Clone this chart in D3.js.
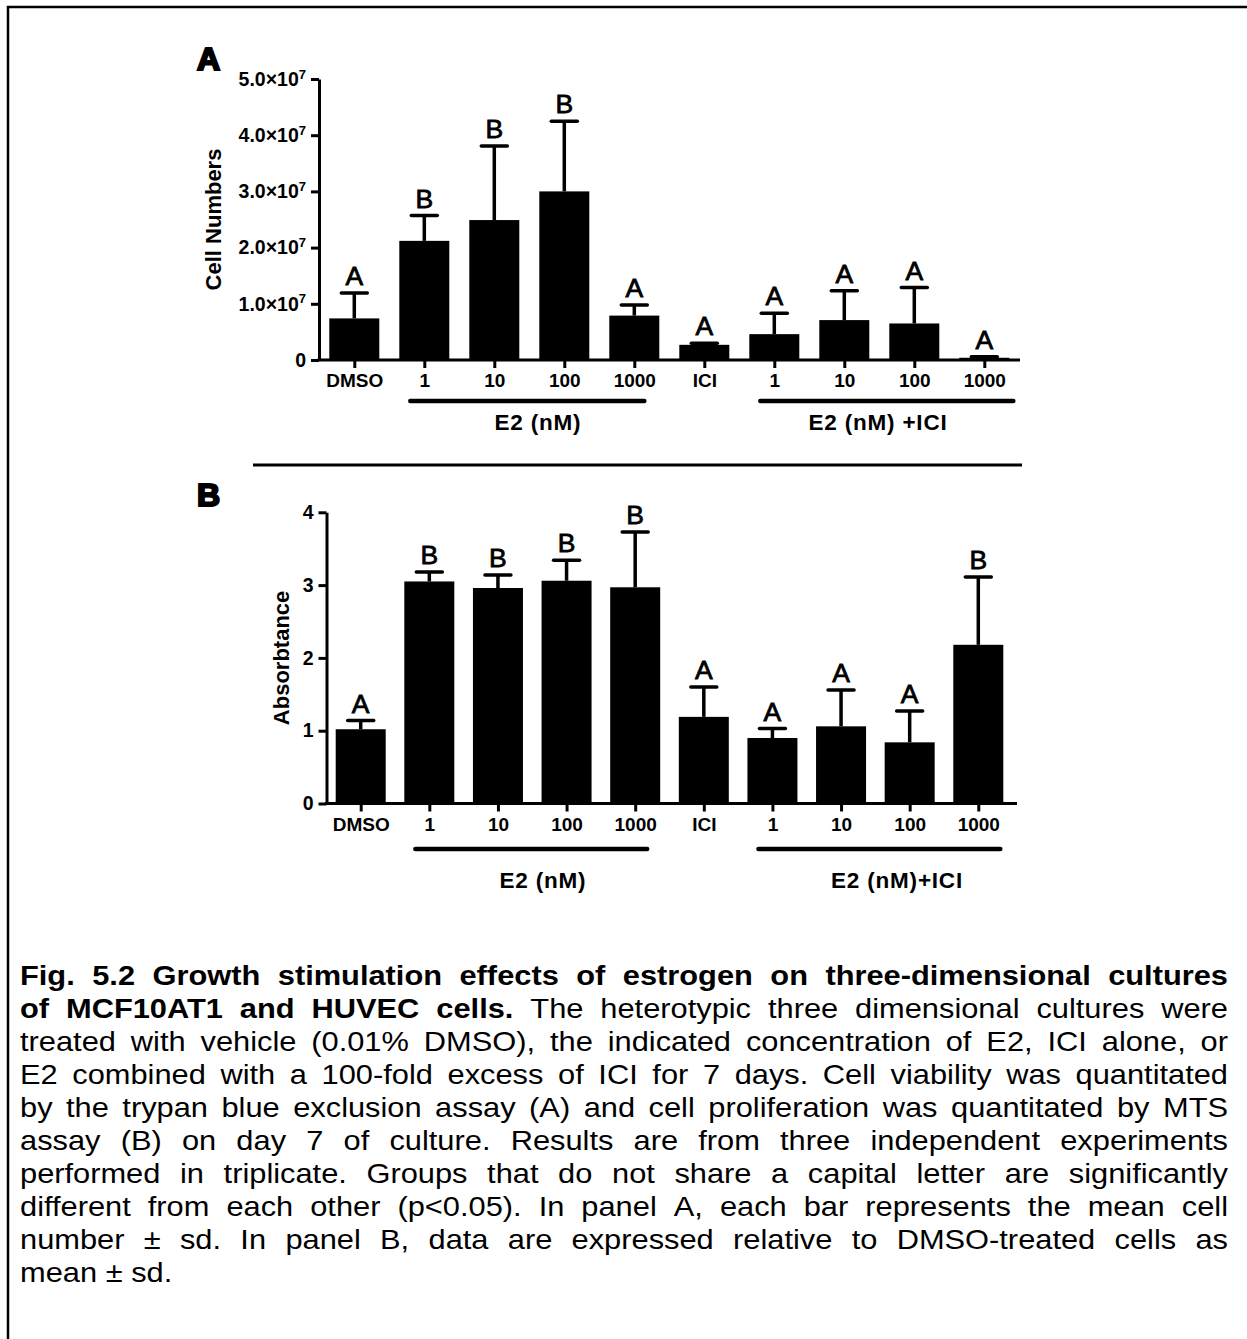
<!DOCTYPE html>
<html>
<head>
<meta charset="utf-8">
<script src="https://cdn.jsdelivr.net/npm/d3@7"></script>
<style>
  body { margin: 0; background: #fff; }
  svg { display: block; font-family: "Liberation Sans", Arial, sans-serif; }
</style>
</head>
<body>
<svg id="fig" width="1247" height="1339"></svg>
<script>
// groups on the x axis (same for both panels)
const groups = ["DMSO", "1", "10", "100", "1000", "ICI", "1", "10", "100", "1000"];

// panel A: cell numbers (x 1e7), mean and sd
const cellMean = [0.74, 2.12, 2.49, 3.00, 0.79, 0.27, 0.46, 0.71, 0.65, 0.04];
const cellSd = [0.45, 0.45, 1.32, 1.25, 0.19, 0.03, 0.37, 0.52, 0.64, 0.02];
const cellLetters = ["A", "B", "B", "B", "A", "A", "A", "A", "A", "A"];
const cellTicks = [0, 1, 2, 3, 4, 5];

// panel B: absorbance, relative to DMSO
const absMean = [1.02, 3.05, 2.96, 3.06, 2.97, 1.19, 0.90, 1.06, 0.84, 2.18];
const absSd = [0.12, 0.13, 0.18, 0.28, 0.76, 0.41, 0.13, 0.50, 0.43, 0.93];
const absLetters = ["A", "B", "B", "B", "B", "A", "A", "A", "A", "B"];
const absTicks = [0, 1, 2, 3, 4];

// bracket groupings under the axis
const brackets = [
  { from: 1, to: 4 },
  { from: 6, to: 9 }
];

const captionLines = [
  "Fig. 5.2 Growth stimulation effects of estrogen on three-dimensional cultures",
  "of MCF10AT1 and HUVEC cells. The heterotypic three dimensional cultures were",
  "treated with vehicle (0.01% DMSO), the indicated concentration of E2, ICI alone, or",
  "E2 combined with a 100-fold excess of ICI for 7 days. Cell viability was quantitated",
  "by the trypan blue exclusion assay (A) and cell proliferation was quantitated by MTS",
  "assay (B) on day 7 of culture. Results are from three independent experiments",
  "performed in triplicate. Groups that do not share a capital letter are significantly",
  "different from each other (p<0.05). In panel A, each bar represents the mean cell",
  "number \u00b1 sd. In panel B, data are expressed relative to DMSO-treated cells as",
  "mean \u00b1 sd."
];
const boldWords = [11, 5]; // words in bold at the start of line 1 and 2

const svg = d3.select("#fig");

// outer frame (top and left edges are visible)
svg.append("path")
  .attr("d", "M8,1339 V7 H1247")
  .attr("fill", "none")
  .attr("stroke", "#000")
  .attr("stroke-width", 2.5);

function drawPanel(opt) {
  const g = svg.append("g");
  const idx = d3.range(groups.length);
  const x = d3.scalePoint().domain(idx).range(opt.xRange);
  const y = d3.scaleLinear().domain(opt.yDomain).range(opt.yRange);
  const barW = 50;

  // bars
  g.selectAll(".bar").data(idx).enter().append("rect")
    .attr("x", i => x(i) - barW / 2)
    .attr("width", barW)
    .attr("y", i => y(opt.mean[i]))
    .attr("height", i => y(0) - y(opt.mean[i]))
    .attr("fill", "#000");

  // error bars (upper only)
  g.selectAll(".err").data(idx).enter().append("line")
    .attr("x1", i => x(i)).attr("x2", i => x(i))
    .attr("y1", i => y(opt.mean[i]))
    .attr("y2", i => y(opt.mean[i] + opt.sd[i]))
    .attr("stroke", "#000").attr("stroke-width", 3.5);
  g.selectAll(".cap").data(idx).enter().append("line")
    .attr("x1", i => x(i) - 13).attr("x2", i => x(i) + 13)
    .attr("y1", i => y(opt.mean[i] + opt.sd[i]))
    .attr("y2", i => y(opt.mean[i] + opt.sd[i]))
    .attr("stroke", "#000").attr("stroke-width", 3.5)
    .attr("stroke-linecap", "round");

  // significance letters
  g.selectAll(".sig").data(idx).enter().append("text")
    .attr("x", i => x(i))
    .attr("y", i => y(opt.mean[i] + opt.sd[i]) - 8)
    .attr("text-anchor", "middle")
    .attr("font-size", 26.5)
    .attr("stroke", "#000").attr("stroke-width", 0.8)
    .text(i => opt.letters[i]);

  // y axis
  const yAxis = g.append("g")
    .attr("transform", `translate(${opt.xAxisStart},0)`)
    .call(d3.axisLeft(y).tickValues(opt.ticks).tickSize(8).tickSizeOuter(0).tickPadding(5)
      .tickFormat(d3.format("d")));
  yAxis.select(".domain").attr("stroke-width", 3);
  yAxis.selectAll(".tick line").attr("stroke-width", 3);
  yAxis.selectAll(".tick text")
    .attr("font-size", 19.5).attr("font-weight", "bold").attr("fill", "#000");
  if (opt.sci) {
    yAxis.selectAll(".tick text").each(function (d) {
      const t = d3.select(this);
      if (d === 0) { t.text("0"); return; }
      t.text("");
      t.append("tspan").text(d3.format(".1f")(d) + "\u00d710");
      t.append("tspan").attr("font-size", 13).attr("dy", "-0.55em").text("7");
    });
  }

  // x axis
  g.append("line")
    .attr("x1", opt.xAxisStart - 1.5).attr("x2", opt.xAxisEnd)
    .attr("y1", y(0)).attr("y2", y(0))
    .attr("stroke", "#000").attr("stroke-width", 3);
  const xAxis = g.append("g")
    .attr("transform", `translate(0,${y(0)})`)
    .call(d3.axisBottom(x).tickSize(8).tickPadding(6).tickFormat(i => groups[i]));
  xAxis.select(".domain").remove();
  xAxis.selectAll(".tick line").attr("stroke-width", 3);
  xAxis.selectAll(".tick text")
    .attr("font-size", 19).attr("font-weight", "bold").attr("fill", "#000");

  // group brackets
  brackets.forEach((b, k) => {
    g.append("line")
      .attr("x1", x(b.from) - 14).attr("x2", x(b.to) + opt.bracketPad[k])
      .attr("y1", opt.bracketY).attr("y2", opt.bracketY)
      .attr("stroke", "#000").attr("stroke-width", 4.5).attr("stroke-linecap", "round");
    g.append("text")
      .attr("x", opt.groupLabelX[k])
      .attr("y", opt.groupLabelY)
      .attr("text-anchor", "middle")
      .attr("font-size", 22.5).attr("font-weight", "bold")
      .attr("letter-spacing", 0.8)
      .text(opt.groupLabels[k]);
  });

  // y title
  g.append("text")
    .attr("transform", `translate(${opt.titleX},${(opt.yRange[0] + opt.yRange[1]) / 2}) rotate(-90)`)
    .attr("text-anchor", "middle")
    .attr("font-size", 22).attr("font-weight", "bold")
    .text(opt.title);

  // panel letter
  g.append("text")
    .attr("x", 197).attr("y", opt.letterY)
    .attr("font-size", 32).attr("font-weight", "bold")
    .attr("stroke", "#000").attr("stroke-width", 2.2)
    .text(opt.panel);
}

drawPanel({
  panel: "A", letterY: 70,
  mean: cellMean, sd: cellSd, letters: cellLetters,
  ticks: cellTicks, sci: true,
  xRange: [354.3, 984.3], yDomain: [0, 5], yRange: [360, 79],
  xAxisStart: 319, xAxisEnd: 1020,
  bracketY: 401, bracketPad: [10, 29],
  groupLabels: ["E2 (nM)", "E2 (nM) +ICI"],
  groupLabelX: [538, 878], groupLabelY: 430,
  title: "Cell Numbers", titleX: 221
});

drawPanel({
  panel: "B", letterY: 506,
  mean: absMean, sd: absSd, letters: absLetters,
  ticks: absTicks, sci: false,
  xRange: [360.7, 978.3], yDomain: [0, 4], yRange: [803.5, 512.3],
  xAxisStart: 326.5, xAxisEnd: 1017,
  bracketY: 849, bracketPad: [12, 22],
  groupLabels: ["E2 (nM)", "E2 (nM)+ICI"],
  groupLabelX: [543, 897], groupLabelY: 888,
  title: "Absorbtance", titleX: 289
});

// divider between panels
svg.append("line")
  .attr("x1", 253).attr("x2", 1022)
  .attr("y1", 465).attr("y2", 465)
  .attr("stroke", "#000").attr("stroke-width", 3);

// caption, justified between two margins; glyphs a little wider than tall
const capLeft = 20, capRight = 1228, capTop = 985, capStep = 33, capSize = 27.5, capStretch = 1.12;
const cap = svg.append("g").attr("font-size", capSize);
captionLines.forEach((line, li) => {
  const words = line.split(" ");
  const yy = capTop + li * capStep;
  const nodes = words.map((w, wi) => cap.append("text")
    .attr("y", yy)
    .attr("font-weight", wi < (boldWords[li] || 0) ? "bold" : "normal")
    .text(w));
  let widths = nodes.map(n => n.node().getComputedTextLength() * capStretch);
  const last = li === captionLines.length - 1;
  const minGap = capSize * 0.22;
  const room = capRight - capLeft - minGap * (words.length - 1);
  const total = d3.sum(widths);
  if (!last && total > room) widths = widths.map(w => w * room / total);
  nodes.forEach((n, j) => n.attr("textLength", widths[j]).attr("lengthAdjust", "spacingAndGlyphs"));
  const gap = last ? capSize * 0.28 * capStretch : (capRight - capLeft - d3.sum(widths)) / (words.length - 1);
  let xx = capLeft;
  nodes.forEach((n, j) => {
    n.attr("x", xx);
    xx += widths[j] + gap;
  });
});
</script>
</body>
</html>
